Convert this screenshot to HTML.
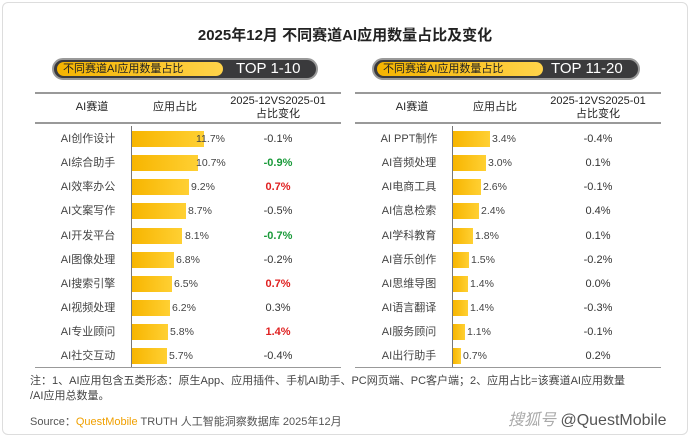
<!DOCTYPE html>
<html><head><meta charset="utf-8"><style>
body{margin:0;width:690px;height:437px;background:#fff;font-family:"Liberation Sans","Noto Sans CJK SC",sans-serif;position:relative;overflow:hidden;color:#333}
.a{position:absolute;white-space:nowrap}
.card{position:absolute;left:2px;top:2px;width:684px;height:431px;border:1px solid #ddd;border-radius:6px}
.pill{position:absolute;height:22px;border-radius:11px;background:#3a3a3c;border:2px solid #9a9a9a;box-sizing:border-box}
.pill .y{position:absolute;left:3px;top:2px;height:14px;border-radius:7px;background:linear-gradient(90deg,#f5b400,#ffd34a);font-size:11px;line-height:14px;padding-left:6px;color:#222}
.pill .t{position:absolute;top:0;font-size:15px;line-height:18px;color:#fff}
.hl{position:absolute;height:2px;background:#999}
.h{position:absolute;font-size:11px;text-align:center;line-height:13px;color:#222}
.n,.v,.c{line-height:16px}
.n{position:absolute;font-size:11px;text-align:center;color:#444}
.bar{position:absolute;height:16px;background:linear-gradient(90deg,#f7b500,#ffd033)}
.v{position:absolute;font-size:10.5px;color:#444}
.c{position:absolute;font-size:11px;text-align:center;color:#333}
.sep{position:absolute;width:1px;background:#777}
</style></head><body>
<div class="card"></div>
<div class="a" style="left:0;width:690px;top:24px;text-align:center;font-size:15px;font-weight:bold;color:#222">2025年12月 不同赛道AI应用数量占比及变化</div>

<div class="pill" style="left:52px;top:58px;width:266px"><div class="y" style="width:160px">不同赛道AI应用数量占比</div><div class="t" style="left:182px">TOP 1-10</div></div>
<div class="pill" style="left:372px;top:58px;width:268px"><div class="y" style="width:160px">不同赛道AI应用数量占比</div><div class="t" style="left:177px">TOP 11-20</div></div>

<div class="hl" style="left:35px;width:306px;top:92px"></div>
<div class="hl" style="left:35px;width:306px;top:122px"></div>
<div class="hl" style="left:355px;width:306px;top:92px;"></div>
<div class="hl" style="left:355px;width:306px;top:122px"></div>
<div class="hl" style="left:35px;width:306px;top:367px;height:1px"></div>
<div class="hl" style="left:355px;width:306px;top:367px;height:1px"></div>

<div class="h" style="left:52px;width:80px;top:101px">AI赛道</div>
<div class="h" style="left:135px;width:80px;top:101px">应用占比</div>
<div class="h" style="left:218px;width:120px;top:95px">2025-12VS2025-01<br>占比变化</div>
<div class="h" style="left:372px;width:80px;top:101px">AI赛道</div>
<div class="h" style="left:455px;width:80px;top:101px">应用占比</div>
<div class="h" style="left:538px;width:120px;top:95px">2025-12VS2025-01<br>占比变化</div>

<div class="sep" style="left:131px;top:126px;height:241px"></div>
<div class="sep" style="left:452px;top:126px;height:241px"></div>

<!-- left rows -->
<div class="n" style="left:45px;width:86px;top:131px">AI创作设计</div><div class="bar" style="left:132px;top:131px;width:72px"></div><div class="v" style="left:196px;top:131px">11.7%</div><div class="c" style="left:218px;width:120px;top:131px">-0.1%</div>
<div class="n" style="left:45px;width:86px;top:155px">AI综合助手</div><div class="bar" style="left:132px;top:155px;width:66px"></div><div class="v" style="left:196px;top:155px">10.7%</div><div class="c" style="left:218px;width:120px;top:155px;color:#1a9a3a;font-weight:bold">-0.9%</div>
<div class="n" style="left:45px;width:86px;top:179px">AI效率办公</div><div class="bar" style="left:132px;top:179px;width:57px"></div><div class="v" style="left:191px;top:179px">9.2%</div><div class="c" style="left:218px;width:120px;top:179px;color:#e02020;font-weight:bold">0.7%</div>
<div class="n" style="left:45px;width:86px;top:203px">AI文案写作</div><div class="bar" style="left:132px;top:203px;width:54px"></div><div class="v" style="left:188px;top:203px">8.7%</div><div class="c" style="left:218px;width:120px;top:203px">-0.5%</div>
<div class="n" style="left:45px;width:86px;top:228px">AI开发平台</div><div class="bar" style="left:132px;top:228px;width:50px"></div><div class="v" style="left:185px;top:228px">8.1%</div><div class="c" style="left:218px;width:120px;top:228px;color:#1a9a3a;font-weight:bold">-0.7%</div>
<div class="n" style="left:45px;width:86px;top:252px">AI图像处理</div><div class="bar" style="left:132px;top:252px;width:42px"></div><div class="v" style="left:176px;top:252px">6.8%</div><div class="c" style="left:218px;width:120px;top:252px">-0.2%</div>
<div class="n" style="left:45px;width:86px;top:276px">AI搜索引擎</div><div class="bar" style="left:132px;top:276px;width:40px"></div><div class="v" style="left:174px;top:276px">6.5%</div><div class="c" style="left:218px;width:120px;top:276px;color:#e02020;font-weight:bold">0.7%</div>
<div class="n" style="left:45px;width:86px;top:300px">AI视频处理</div><div class="bar" style="left:132px;top:300px;width:38px"></div><div class="v" style="left:172px;top:300px">6.2%</div><div class="c" style="left:218px;width:120px;top:300px">0.3%</div>
<div class="n" style="left:45px;width:86px;top:324px">AI专业顾问</div><div class="bar" style="left:132px;top:324px;width:36px"></div><div class="v" style="left:170px;top:324px">5.8%</div><div class="c" style="left:218px;width:120px;top:324px;color:#e02020;font-weight:bold">1.4%</div>
<div class="n" style="left:45px;width:86px;top:348px">AI社交互动</div><div class="bar" style="left:132px;top:348px;width:35px"></div><div class="v" style="left:169px;top:348px">5.7%</div><div class="c" style="left:218px;width:120px;top:348px">-0.4%</div>

<!-- right rows -->
<div class="n" style="left:366px;width:86px;top:131px">AI PPT制作</div><div class="bar" style="left:453px;top:131px;width:37px"></div><div class="v" style="left:492px;top:131px">3.4%</div><div class="c" style="left:538px;width:120px;top:131px">-0.4%</div>
<div class="n" style="left:366px;width:86px;top:155px">AI音频处理</div><div class="bar" style="left:453px;top:155px;width:33px"></div><div class="v" style="left:488px;top:155px">3.0%</div><div class="c" style="left:538px;width:120px;top:155px">0.1%</div>
<div class="n" style="left:366px;width:86px;top:179px">AI电商工具</div><div class="bar" style="left:453px;top:179px;width:28px"></div><div class="v" style="left:483px;top:179px">2.6%</div><div class="c" style="left:538px;width:120px;top:179px">-0.1%</div>
<div class="n" style="left:366px;width:86px;top:203px">AI信息检索</div><div class="bar" style="left:453px;top:203px;width:26px"></div><div class="v" style="left:481px;top:203px">2.4%</div><div class="c" style="left:538px;width:120px;top:203px">0.4%</div>
<div class="n" style="left:366px;width:86px;top:228px">AI学科教育</div><div class="bar" style="left:453px;top:228px;width:20px"></div><div class="v" style="left:475px;top:228px">1.8%</div><div class="c" style="left:538px;width:120px;top:228px">0.1%</div>
<div class="n" style="left:366px;width:86px;top:252px">AI音乐创作</div><div class="bar" style="left:453px;top:252px;width:16px"></div><div class="v" style="left:471px;top:252px">1.5%</div><div class="c" style="left:538px;width:120px;top:252px">-0.2%</div>
<div class="n" style="left:366px;width:86px;top:276px">AI思维导图</div><div class="bar" style="left:453px;top:276px;width:15px"></div><div class="v" style="left:470px;top:276px">1.4%</div><div class="c" style="left:538px;width:120px;top:276px">0.0%</div>
<div class="n" style="left:366px;width:86px;top:300px">AI语言翻译</div><div class="bar" style="left:453px;top:300px;width:15px"></div><div class="v" style="left:470px;top:300px">1.4%</div><div class="c" style="left:538px;width:120px;top:300px">-0.3%</div>
<div class="n" style="left:366px;width:86px;top:324px">AI服务顾问</div><div class="bar" style="left:453px;top:324px;width:12px"></div><div class="v" style="left:467px;top:324px">1.1%</div><div class="c" style="left:538px;width:120px;top:324px">-0.1%</div>
<div class="n" style="left:366px;width:86px;top:348px">AI出行助手</div><div class="bar" style="left:453px;top:348px;width:8px"></div><div class="v" style="left:463px;top:348px">0.7%</div><div class="c" style="left:538px;width:120px;top:348px">0.2%</div>

<div class="a" style="left:30px;top:374px;font-size:11px;color:#444;line-height:15px">注：1、AI应用包含五类形态：原生App、应用插件、手机AI助手、PC网页端、PC客户端；2、应用占比=该赛道AI应用数量<br>/AI应用总数量。</div>
<div class="a" style="left:30px;top:413px;font-size:11px;color:#555">Source：<span style="color:#f0a000">QuestMobile</span> TRUTH 人工智能洞察数据库 2025年12月</div>
<div class="a" style="left:508px;top:406px;font-size:16px;color:#555"><i style="color:#aaa">搜狐号</i> @QuestMobile</div>
</body></html>
